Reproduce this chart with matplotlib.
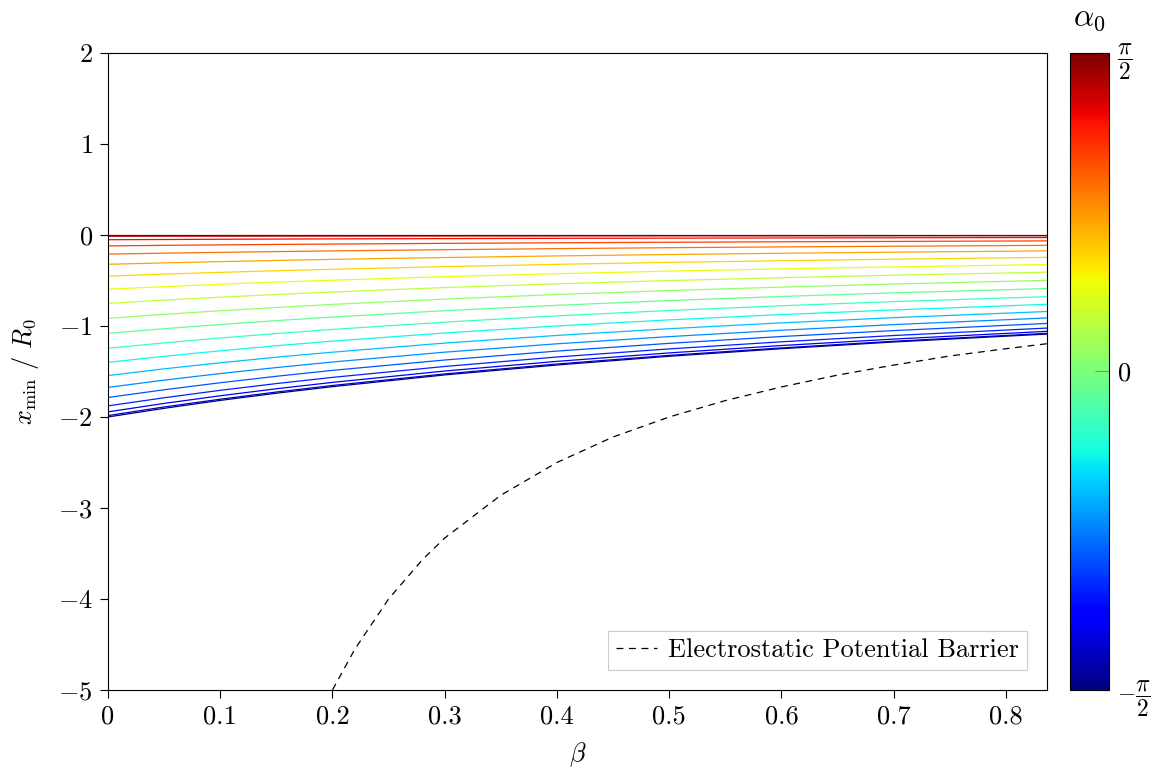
import numpy as np
import matplotlib
matplotlib.use("Agg")
import matplotlib.pyplot as plt
from matplotlib.colors import Normalize

plt.rcParams['font.family'] = 'serif'
plt.rcParams['font.serif'] = ['cmr10']
plt.rcParams['mathtext.fontset'] = 'cm'
plt.rcParams['axes.formatter.use_mathtext'] = True
plt.rcParams['font.size'] = 19

# beta sample points where x_min / R0 was tabulated
beta = [0.0, 0.05, 0.1, 0.15, 0.2, 0.3, 0.4, 0.5, 0.6, 0.7, 0.8366]

# launch angles alpha_0, bottom curve (-pi/2) to top curve (+pi/2)
n_alpha = 20
alpha0 = np.linspace(-np.pi / 2, np.pi / 2, n_alpha)

# -x_min / R0 for each alpha_0 (rows in the same order as alpha0)
depth = [
    [2.000, 1.905, 1.818, 1.739, 1.667, 1.538, 1.429, 1.333, 1.250, 1.176, 1.089],
    [1.985, 1.890, 1.805, 1.726, 1.654, 1.527, 1.418, 1.323, 1.241, 1.168, 1.081],
    [1.944, 1.851, 1.767, 1.690, 1.620, 1.495, 1.389, 1.296, 1.215, 1.144, 1.059],
    [1.878, 1.789, 1.707, 1.633, 1.565, 1.445, 1.341, 1.252, 1.174, 1.105, 1.023],
    [1.786, 1.701, 1.624, 1.553, 1.488, 1.374, 1.276, 1.191, 1.116, 1.051, 0.972],
    [1.675, 1.595, 1.523, 1.457, 1.396, 1.288, 1.196, 1.117, 1.047, 0.985, 0.912],
    [1.545, 1.471, 1.405, 1.343, 1.288, 1.188, 1.104, 1.030, 0.966, 0.909, 0.841],
    [1.400, 1.333, 1.273, 1.217, 1.167, 1.077, 1.000, 0.933, 0.875, 0.824, 0.762],
    [1.245, 1.186, 1.132, 1.083, 1.038, 0.958, 0.889, 0.830, 0.778, 0.732, 0.678],
    [1.082, 1.030, 0.984, 0.941, 0.902, 0.832, 0.773, 0.721, 0.676, 0.636, 0.589],
    [0.916, 0.872, 0.833, 0.797, 0.763, 0.705, 0.654, 0.611, 0.573, 0.539, 0.499],
    [0.752, 0.716, 0.684, 0.654, 0.627, 0.578, 0.537, 0.501, 0.470, 0.442, 0.409],
    [0.596, 0.568, 0.542, 0.518, 0.497, 0.458, 0.426, 0.397, 0.373, 0.351, 0.325],
    [0.452, 0.430, 0.411, 0.393, 0.377, 0.348, 0.323, 0.301, 0.283, 0.266, 0.246],
    [0.322, 0.307, 0.293, 0.280, 0.268, 0.248, 0.230, 0.215, 0.201, 0.189, 0.175],
    [0.210, 0.200, 0.191, 0.183, 0.175, 0.162, 0.150, 0.140, 0.131, 0.124, 0.114],
    [0.120, 0.114, 0.109, 0.104, 0.100, 0.092, 0.086, 0.080, 0.075, 0.071, 0.065],
    [0.052, 0.050, 0.047, 0.045, 0.043, 0.040, 0.037, 0.035, 0.033, 0.031, 0.028],
    [0.014, 0.013, 0.013, 0.012, 0.012, 0.011, 0.010, 0.009, 0.009, 0.008, 0.008],
    [0.000, 0.000, 0.000, 0.000, 0.000, 0.000, 0.000, 0.000, 0.000, 0.000, 0.000],
]

# electrostatic potential barrier
beta_barrier = [0.2, 0.22, 0.25, 0.28, 0.3, 0.35, 0.4, 0.45, 0.5, 0.55,
                0.6, 0.65, 0.7, 0.75, 0.8, 0.8366]
x_barrier = [-5.0, -4.55, -4.0, -3.57, -3.33, -2.86, -2.5, -2.22, -2.0, -1.82,
             -1.67, -1.54, -1.43, -1.33, -1.25, -1.195]

xticks = [0, 0.1, 0.2, 0.3, 0.4, 0.5, 0.6, 0.7, 0.8]
xticklabels = ['0', '0.1', '0.2', '0.3', '0.4', '0.5', '0.6', '0.7', '0.8']
yticks = [-5, -4, -3, -2, -1, 0, 1, 2]

fig = plt.figure(figsize=(11.6, 7.71), dpi=100)
ax = fig.add_axes([0.0931, 0.1051, 0.8095, 0.8262])
cax = fig.add_axes([0.9224, 0.1051, 0.0336, 0.8262])

cmap = plt.cm.jet
norm = Normalize(vmin=-np.pi / 2, vmax=np.pi / 2)

for a, row in zip(alpha0, depth):
    ax.plot(beta, [-d for d in row], color=cmap(norm(a)), linewidth=0.9)

ax.plot(beta_barrier, x_barrier, color='black', linewidth=0.9,
        dashes=(5.5, 4.5), label='Electrostatic Potential Barrier')

ax.set_xlim(0, 0.8366)
ax.set_ylim(-5, 2)
ax.set_xticks(xticks)
ax.set_xticklabels(xticklabels)
ax.set_yticks(yticks)
ax.tick_params(direction='out', length=6, width=0.8, top=False, right=False,
               pad=5)
ax.set_xlabel(r'$\beta$', labelpad=8)
ax.set_ylabel(r'$x_{\rm min}\ /\ R_0$', labelpad=12)

leg = ax.legend(loc='lower right', handlelength=1.55, handletextpad=0.45,
                fancybox=False, framealpha=1, borderpad=0.3,
                borderaxespad=0.75)
leg.get_frame().set_edgecolor('#cccccc')
leg.get_frame().set_linewidth(0.8)

sm = plt.cm.ScalarMappable(norm=norm, cmap=cmap)
cb = fig.colorbar(sm, cax=cax)
cb.set_ticks([-np.pi / 2, 0, np.pi / 2])
cb.set_ticklabels([r'$-\dfrac{\pi}{2}$', r'$0$', r'$\dfrac{\pi}{2}$'])
cb.ax.tick_params(direction='in', length=10, width=0.8, color='#888888',
                  pad=6)
for lbl in cb.ax.get_yticklabels():
    if lbl.get_text() != r'$0$':
        lbl.set_fontsize(17)
cb.outline.set_linewidth(0.8)
cb.ax.set_title(r'$\alpha_0$', pad=20)

fig.savefig('out.png', dpi=100)
